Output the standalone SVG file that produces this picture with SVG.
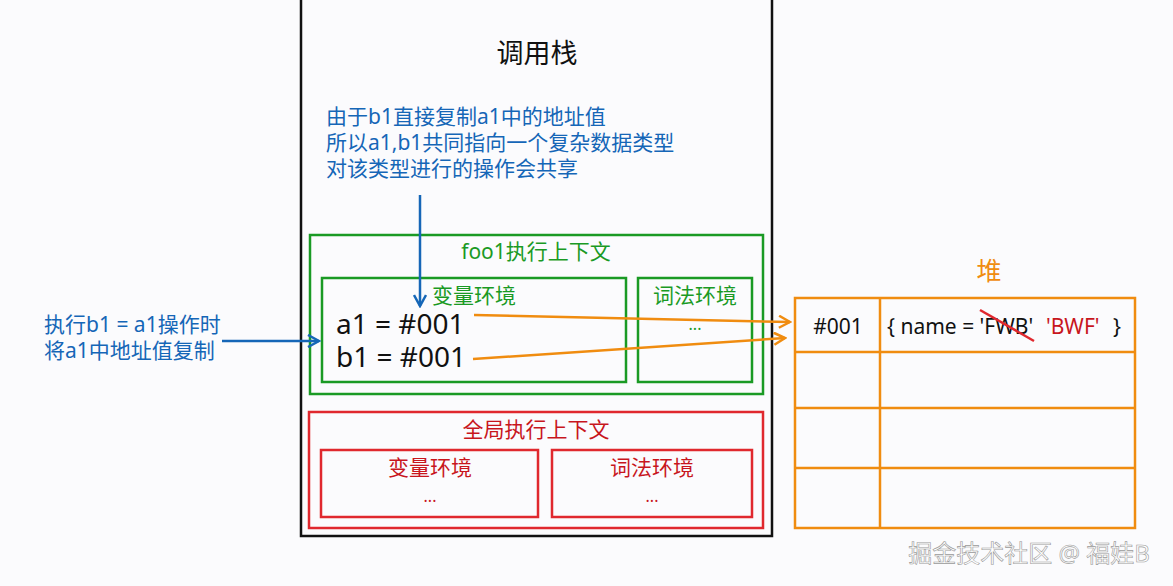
<svg xmlns="http://www.w3.org/2000/svg" width="1173" height="586" viewBox="0 0 1173 586">
<style>
text{font-family:"Noto Sans","Noto Sans CJK SC",sans-serif}
.g{fill:none;stroke:#1a9a24;stroke-width:2.5}
.r{fill:none;stroke:#e0282e;stroke-width:2.5}
.o{fill:none;stroke:#f08c10;stroke-width:2.5}
.gt{fill:#1a9a24;font-size:21px}
.rt{fill:#c8161d;font-size:21px}
.bt{fill:#1566b7;font-size:21px}
.ht{font-size:21px}
</style>
<defs>
<marker id="ao" markerWidth="14" markerHeight="14" refX="12" refY="7" orient="auto" markerUnits="userSpaceOnUse"><path d="M1,1 L12,7 L1,13" fill="none" stroke="#f08c10" stroke-width="2.5"/></marker>
<marker id="ab" markerWidth="14" markerHeight="14" refX="12" refY="7" orient="auto" markerUnits="userSpaceOnUse"><path d="M1,1 L12,7 L1,13" fill="none" stroke="#1566b7" stroke-width="2.5"/></marker>
</defs>
<rect width="1173" height="586" fill="#fbfbfd"/>
<g id="stack">
<rect x="301" y="-3" width="471" height="539" fill="none" stroke="#111" stroke-width="2.5"/>
<text x="537" y="63" font-size="27" text-anchor="middle" fill="#111">调用栈</text>
</g>
<g id="note">
<text class="bt" x="326" y="124">由于b1直接复制a1中的地址值</text>
<text class="bt" x="326" y="150">所以a1,b1共同指向一个复杂数据类型</text>
<text class="bt" x="326" y="176">对该类型进行的操作会共享</text>
</g>
<g id="foo1">
<rect class="g" x="310" y="235" width="453" height="159"/>
<text class="gt" x="536" y="259" text-anchor="middle">foo1执行上下文</text>
</g>
<g id="foo1-var">
<rect class="g" x="322" y="278" width="304" height="104"/>
<text class="gt" x="474" y="303" text-anchor="middle">变量环境</text>
<text x="336" y="334" font-size="28" fill="#111">a1 = #001</text>
<text x="336" y="367" font-size="28" fill="#111">b1 = #001</text>
</g>
<g id="foo1-lex">
<rect class="g" x="638" y="278" width="114" height="104"/>
<text class="gt" x="695" y="303" text-anchor="middle">词法环境</text>
<text x="695" y="330" font-size="16" text-anchor="middle" fill="#1a9a24">...</text>
</g>
<g id="global">
<rect class="r" x="309" y="412" width="454" height="116"/>
<text class="rt" x="536" y="437" text-anchor="middle">全局执行上下文</text>
</g>
<g id="global-var">
<rect class="r" x="321" y="450" width="217" height="67"/>
<text class="rt" x="430" y="475" text-anchor="middle">变量环境</text>
<text x="430" y="502" font-size="16" text-anchor="middle" fill="#c8161d">...</text>
</g>
<g id="global-lex">
<rect class="r" x="552" y="450" width="200" height="67"/>
<text class="rt" x="652" y="475" text-anchor="middle">词法环境</text>
<text x="652" y="502" font-size="16" text-anchor="middle" fill="#c8161d">...</text>
</g>
<g id="heap">
<text x="989" y="280" font-size="25" text-anchor="middle" fill="#f08c10">堆</text>
<rect class="o" x="795" y="298" width="340" height="230"/>
<line class="o" x1="880" y1="298" x2="880" y2="528"/>
<line class="o" x1="795" y1="352" x2="1135" y2="352"/>
<line class="o" x1="795" y1="408" x2="1135" y2="408"/>
<line class="o" x1="795" y1="468" x2="1135" y2="468"/>
<text class="ht" x="838" y="334" text-anchor="middle" fill="#111">#001</text>
<text class="ht" x="887" y="334" fill="#111">{ name = 'FWB'</text>
<text class="ht" x="1046" y="334" fill="#c8161d">'BWF'</text>
<text class="ht" x="1113" y="334" fill="#111">}</text>
<line x1="980" y1="310" x2="1034" y2="341" stroke="#e0282e" stroke-width="2.5"/>
</g>
<g id="left-label">
<text class="bt" x="44" y="332">执行b1 = a1操作时</text>
<text class="bt" x="44" y="358">将a1中地址值复制</text>
</g>
<g id="connectors">
<line x1="420" y1="195" x2="420" y2="306" stroke="#1566b7" stroke-width="2.5" marker-end="url(#ab)"/>
<line x1="222" y1="341" x2="319" y2="341" stroke="#1566b7" stroke-width="2.5" marker-end="url(#ab)"/>
<line x1="474" y1="315" x2="790" y2="322" stroke="#f08c10" stroke-width="2.5" marker-end="url(#ao)"/>
<line x1="473" y1="359" x2="785" y2="338" stroke="#f08c10" stroke-width="2.5" marker-end="url(#ao)"/>
</g>
<text x="1029" y="562" font-size="24" text-anchor="middle" fill="#fff" stroke="#999" stroke-width="0.6">掘金技术社区 @ 福娃B</text>
</svg>
